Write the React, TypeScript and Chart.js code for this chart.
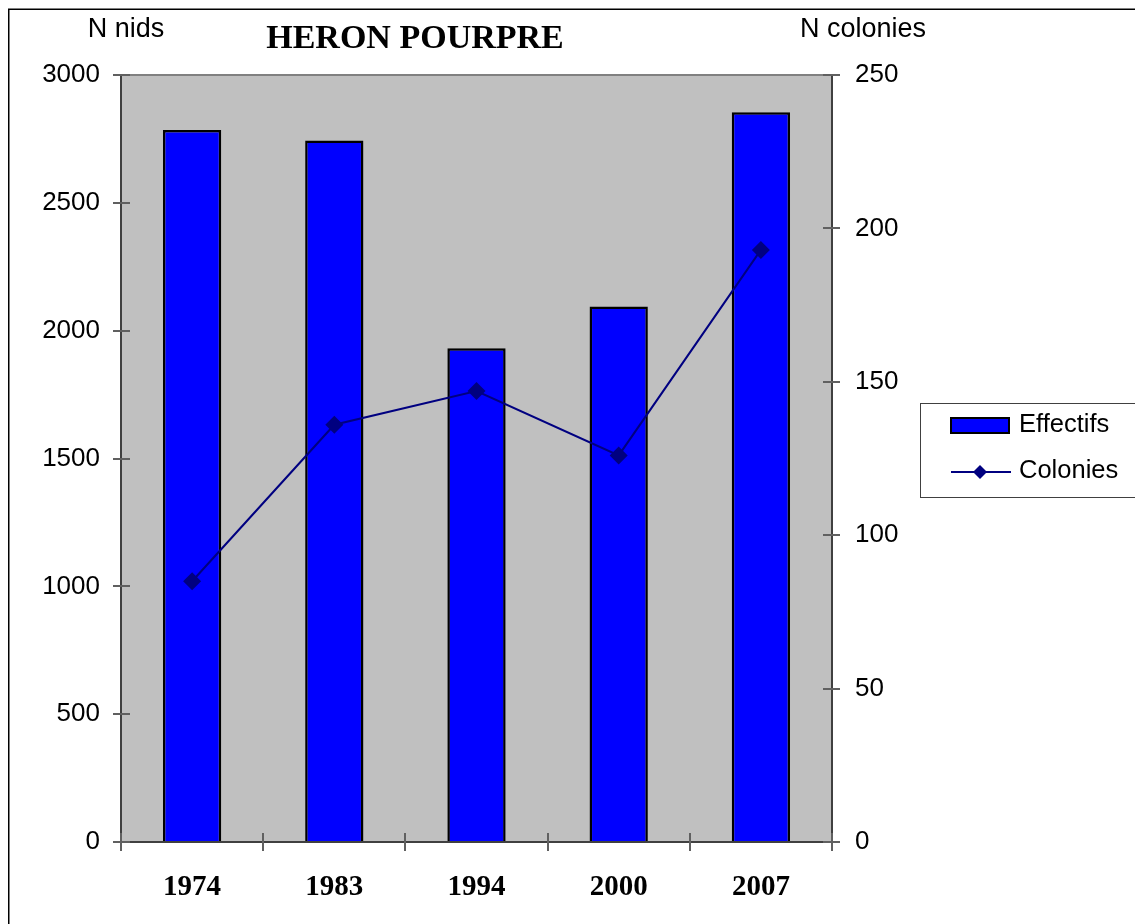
import React, { useEffect, useRef } from "react";
import { Chart, registerables } from "chart.js";

Chart.register(...registerables);

const years = ["1974", "1983", "1994", "2000", "2007"];
const effectifs = [2785, 2744, 1931, 2095, 2854];
const colonies = [85, 136, 147, 126, 193];
const leftTicks = [0, 500, 1000, 1500, 2000, 2500, 3000];
const rightTicks = [0, 50, 100, 150, 200, 250];

const titleText = "HERON POURPRE";
const leftAxisTitle = "N nids";
const rightAxisTitle = "N colonies";
const legendBars = "Effectifs";
const legendLine = "Colonies";

const SANS = "'Liberation Sans', Arial, sans-serif";
const SERIF = "'Liberation Serif', 'Times New Roman', serif";

const decoPlugin = {
  id: "deco",
  beforeDraw(chart: any) {
    const { ctx, chartArea } = chart;
    const { left, right, top, bottom } = chartArea;
    ctx.save();
    ctx.fillStyle = "#c0c0c0";
    ctx.fillRect(left, top, right - left, bottom - top);
    ctx.restore();
  },
  afterDatasetsDraw(chart: any) {
    const { ctx, chartArea, scales } = chart;
    const { left, right, top, bottom } = chartArea;
    ctx.save();
    ctx.strokeStyle = "#808080";
    ctx.lineWidth = 2;
    ctx.beginPath();
    ctx.moveTo(left, top);
    ctx.lineTo(right, top);
    ctx.stroke();
    ctx.strokeStyle = "#404040";
    ctx.lineWidth = 2;
    ctx.beginPath();
    ctx.moveTo(left, top);
    ctx.lineTo(left, bottom);
    ctx.lineTo(right, bottom);
    ctx.lineTo(right, top);
    ctx.stroke();
    ctx.strokeStyle = "#606060";
    ctx.lineWidth = 2;
    const yL = scales.y;
    leftTicks.forEach((v) => {
      const py = Math.round(yL.getPixelForValue(v));
      ctx.beginPath();
      ctx.moveTo(left - 8, py);
      ctx.lineTo(left + 9, py);
      ctx.stroke();
    });
    const yR = scales.y1;
    rightTicks.forEach((v) => {
      const py = Math.round(yR.getPixelForValue(v));
      ctx.beginPath();
      ctx.moveTo(right - 9, py);
      ctx.lineTo(right + 8, py);
      ctx.stroke();
    });
    const n = years.length;
    for (let i = 0; i <= n; i++) {
      const px = Math.round(left + ((right - left) * i) / n);
      ctx.beginPath();
      ctx.moveTo(px, bottom - 9);
      ctx.lineTo(px, bottom + 9);
      ctx.stroke();
    }
    ctx.restore();
  },
  afterDraw(chart: any) {
    const { ctx, width, height } = chart;
    ctx.save();
    ctx.strokeStyle = "#000000";
    ctx.lineWidth = 1.5;
    ctx.beginPath();
    ctx.moveTo(0.75, height + 5);
    ctx.lineTo(0.75, 1.25);
    ctx.lineTo(width + 5, 1.25);
    ctx.stroke();
    ctx.fillStyle = "#000000";
    ctx.font = `bold 34px ${SERIF}`;
    ctx.textAlign = "center";
    ctx.textBaseline = "middle";
    ctx.fillText(titleText, 407, 31);
    ctx.font = `27px ${SANS}`;
    ctx.fillText(leftAxisTitle, 118, 22);
    ctx.fillText(rightAxisTitle, 855, 22);
    const lx = 912, ly = 395, lw = 240, lh = 94;
    ctx.strokeStyle = "#404040";
    ctx.lineWidth = 1;
    ctx.strokeRect(lx + 0.5, ly + 0.5, lw, lh);
    ctx.fillStyle = "#0000ff";
    ctx.fillRect(943, 410, 58, 15);
    ctx.strokeStyle = "#000000";
    ctx.lineWidth = 2;
    ctx.strokeRect(943, 410, 58, 15);
    ctx.strokeStyle = "#000080";
    ctx.beginPath();
    ctx.moveTo(943, 464);
    ctx.lineTo(1003, 464);
    ctx.stroke();
    ctx.fillStyle = "#000080";
    ctx.beginPath();
    ctx.moveTo(972, 457);
    ctx.lineTo(979, 464);
    ctx.lineTo(972, 471);
    ctx.lineTo(965, 464);
    ctx.closePath();
    ctx.fill();
    ctx.fillStyle = "#000000";
    ctx.font = `25.5px ${SANS}`;
    ctx.textAlign = "left";
    ctx.fillText(legendBars, 1011, 417);
    ctx.fillText(legendLine, 1011, 463);
    ctx.restore();
  },
};

export default function App() {
  const ref = useRef<HTMLCanvasElement>(null);
  useEffect(() => {
    document.body.style.overflow = "hidden";
    const chart = new Chart(ref.current!, {
      type: "bar",
      data: {
        labels: years,
        datasets: [
          {
            type: "line",
            label: legendLine,
            data: colonies,
            yAxisID: "y1",
            borderColor: "#000080",
            backgroundColor: "#000080",
            borderWidth: 2,
            pointStyle: "rectRot",
            pointRadius: 9,
            pointBorderWidth: 0,
            pointBackgroundColor: "#000080",
            tension: 0,
            order: 0,
          } as any,
          {
            type: "bar",
            label: legendBars,
            data: effectifs,
            yAxisID: "y",
            backgroundColor: "#0000ff",
            borderColor: "#000000",
            borderWidth: 2.5,
            barPercentage: 0.41,
            categoryPercentage: 1,
            order: 1,
          },
        ],
      },
      plugins: [decoPlugin],
      options: {
        responsive: false,
        animation: false,
        layout: { padding: { top: 67, left: 0, right: 0, bottom: 0 } },
        plugins: {
          legend: { display: false },
          title: { display: false },
          tooltip: { enabled: false },
        },
        scales: {
          x: {
            offset: true,
            grid: { display: false, offset: true },
            border: { display: false },
            ticks: {
              color: "#000000",
              font: { family: SERIF, size: 29, weight: "bold" },
              padding: 20,
              maxRotation: 0,
            },
            afterFit(scale: any) {
              scale.height = 82;
            },
          },
          y: {
            position: "left",
            min: 0,
            max: 3000,
            grid: { display: false },
            border: { display: false },
            ticks: {
              stepSize: 500,
              color: "#000000",
              font: { family: SANS, size: 26 },
              padding: 13,
              callback: (v: any) => String(v),
            },
            afterFit(scale: any) {
              scale.width = 113;
            },
          },
          y1: {
            position: "right",
            min: 0,
            max: 250,
            grid: { display: false },
            border: { display: false },
            ticks: {
              stepSize: 50,
              color: "#000000",
              font: { family: SANS, size: 26 },
              padding: 15,
              callback: (v: any) => String(v),
            },
            afterFit(scale: any) {
              scale.width = 311;
            },
          },
        },
      } as any,
    });
    return () => chart.destroy();
  }, []);
  return <canvas ref={ref} width={1135} height={916} style={{ display: "block" }} />;
}
